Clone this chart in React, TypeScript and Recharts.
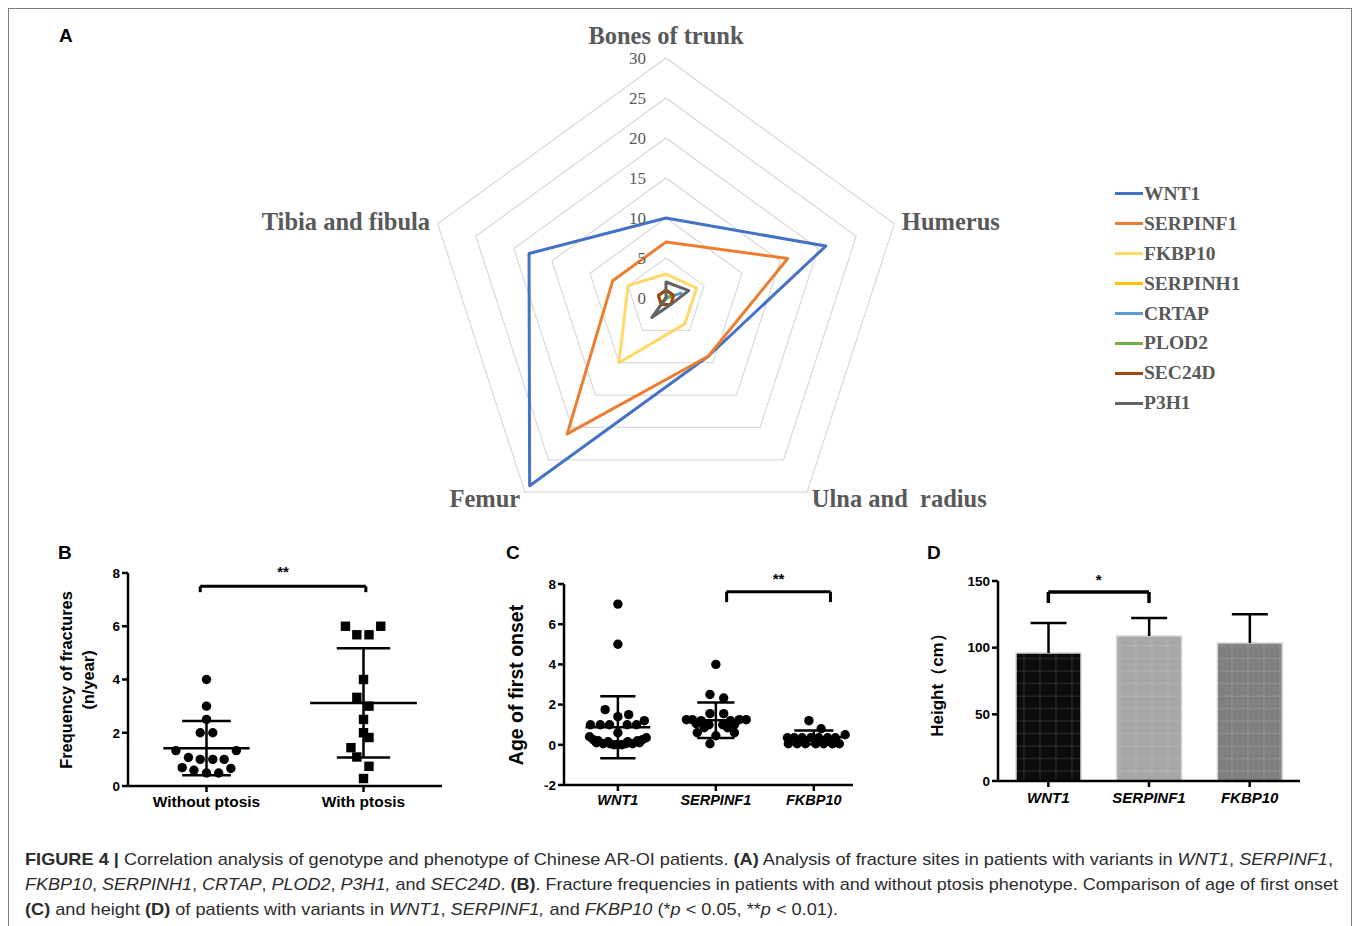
import React from "react";
import {
  RadarChart,
  Radar,
  PolarGrid,
  PolarAngleAxis,
  PolarRadiusAxis,
  Legend,
  ScatterChart,
  Scatter,
  XAxis,
  YAxis,
  ReferenceLine,
  BarChart,
  Bar,
} from "recharts";

// ---- A: fracture sites per gene ----
const sites = ["Bones of trunk", "Humerus", "Ulna and  radius", "Femur", "Tibia and fibula"];
const genes = ["WNT1", "SERPINF1", "FKBP10", "SERPINH1", "CRTAP", "PLOD2", "SEC24D", "P3H1"];
const wnt1Sites = [10, 21, 9, 29, 18];
const serpinf1Sites = [7, 16, 9, 21, 7];
const fkbp10Sites = [3, 4, 4, 10, 5];
const serpinh1Sites = [0, 1, 0, 1, 0];
const crtapSites = [0, 2, 0, 1, 0];
const plod2Sites = [1, 1, 0, 1, 1];
const sec24dSites = [1, 1, 1, 1, 1];
const p3h1Sites = [2, 3, 1, 3, 0];
const radarTicks = [0, 5, 10, 15, 20, 25, 30];

// ---- B: fracture frequency with / without ptosis ----
const ptosisGroups = ["Without ptosis", "With ptosis"];
const withoutPtosis = [4, 3, 2.5, 2, 2, 1.33, 1.33, 1.07, 1.0, 1.0, 1.0, 0.69, 0.59, 0.49, 0.49, 0.66];
const withoutJitter = [0, 0, 0, -0.08, 0.08, -0.39, 0.38, -0.23, -0.08, 0.08, 0.225, -0.31, -0.16, 0, 0.155, 0.31];
const withPtosis = [6, 6, 5.68, 5.68, 4, 3.33, 3, 2.5, 2, 1.82, 1.44, 1.09, 0.74, 0.28];
const withJitter = [-0.23, 0.22, -0.085, 0.07, 0, -0.085, 0.07, 0, 0, 0.07, -0.16, -0.085, 0.07, 0];
const ptosisMean = [1.42, 3.12];
const ptosisSd = [1.02, 2.05];

// ---- C: age of first onset ----
const onsetGenes = ["WNT1", "SERPINF1", "FKBP10"];
const wnt1Onset = [7, 5, 1.75, 1.4, 1.5, 1.2, 1.0, 1.0, 1.0, 1.0, 1.0, 0.6, 0.4, 0.35, 0.25, 0.25, 0.1, 0.05, 0.05, 0, 0.05, 0.05, 0.1, 0.2, 0.15, 0.15, 0.2, 0, 0];
const wnt1Jitter = [0, 0, -0.13, 0, 0.11, 0.27, -0.28, -0.18, -0.085, 0.095, 0.19, 0, -0.29, 0.29, -0.25, 0.25, -0.22, -0.15, -0.08, 0, 0.08, 0.15, 0.22, -0.2, -0.1, 0.1, 0.2, -0.04, 0.04];
const serpinf1Onset = [4.0, 2.5, 2.33, 1.55, 1.55, 1.25, 1.2, 1.2, 1.25, 1.25, 1.25, 1.05, 1.0, 1.0, 1.0, 0.85, 0.85, 0.6, 0.6, 0.45, 0.05];
const serpinf1Jitter = [0, -0.06, 0.08, -0.06, 0.08, -0.24, -0.15, 0.15, 0.24, 0.31, -0.3, -0.2, -0.07, 0.07, 0.19, -0.12, 0.12, -0.19, 0.19, 0, -0.06];
const fkbp10Onset = [1.2, 0.8, 0.5, 0.35, 0.35, 0.35, 0.35, 0.35, 0.35, 0.35, 0.05, 0.05, 0.05, 0.05, 0.05, 0.05, 0.05];
const fkbp10Jitter = [-0.05, 0.075, 0.32, -0.27, -0.2, -0.12, -0.03, 0.05, 0.14, 0.22, -0.26, -0.17, -0.085, 0.02, 0.1, 0.19, 0.26];
const onsetMean = [0.87, 1.22, 0.37];
const onsetSd = [1.54, 0.88, 0.34];

// ---- D: height ----
const heightMean = [96, 108.75, 103.5];
const heightSd = [22.5, 13.5, 21.5];

const geneColors = ["#4472C4", "#ED7D31", "#FFD966", "#FFC000", "#5B9BD5", "#70AD47", "#9E480E", "#636363"];
const barFills = ["#0b0b0b", "#a7a7a9", "#7f7f7f"];

const SANS = "'Liberation Sans', Arial, sans-serif";
const SERIF = "'Liberation Serif', 'Times New Roman', serif";

const siteSeries = [wnt1Sites, serpinf1Sites, fkbp10Sites, serpinh1Sites, crtapSites, plod2Sites, sec24dSites, p3h1Sites];
const radarData = sites.map((site, i) => {
  const row: Record<string, any> = { site };
  genes.forEach((g, k) => (row[g] = siteSeries[k][i]));
  return row;
});

const toPoints = (values: number[], jitter: number[], pos: number) =>
  values.map((v, i) => ({ x: pos + jitter[i], y: v }));

const heightData = onsetGenes.map((g, i) => ({ gene: g, mean: heightMean[i], sd: heightSd[i] }));

const axisLine = { stroke: "#000", strokeWidth: 2.5 };
const errStyle = { stroke: "#000", strokeWidth: 2.5, ifOverflow: "visible" as const };
const tickFont = { fill: "#000", fontSize: 13.5, fontWeight: "bold", fontFamily: SANS };

function AngleTick({ x, y, payload, textAnchor }: any) {
  const top = payload.value === sites[0];
  return (
    <text
      x={x}
      y={top ? y - 15 : y}
      textAnchor={textAnchor}
      dominantBaseline="central"
      fontFamily={SERIF}
      fontWeight="bold"
      fontSize={24.5}
      fill="#595959"
      style={{ whiteSpace: "pre" }}
    >
      {payload.value}
    </text>
  );
}

function RadiusTick({ x, y, payload }: any) {
  return (
    <text x={x - 20} y={y} textAnchor="end" dominantBaseline="central" fontFamily={SERIF} fontSize={17} fill="#595959">
      {payload.value}
    </text>
  );
}

function GeneLegend({ payload }: any) {
  const items = [...(payload || [])].sort((a: any, b: any) => genes.indexOf(a.value) - genes.indexOf(b.value));
  return (
    <div>
      {items.map((entry: any) => (
        <div key={entry.value} style={{ display: "flex", alignItems: "center", height: 29.9 }}>
          <span style={{ display: "inline-block", width: 28, height: 3, background: geneColors[genes.indexOf(entry.value)] }} />
          <span style={{ fontFamily: SERIF, fontWeight: "bold", fontSize: 19.5, color: "#595959", marginLeft: 1 }}>{entry.value}</span>
        </div>
      ))}
    </div>
  );
}

const Dot = (p: any) => <circle cx={p.cx} cy={p.cy} r={4.7} fill="#000" />;
const Square = (p: any) => <rect x={p.cx - 4.7} y={p.cy - 4.7} width={9.4} height={9.4} fill="#000" />;

function meanSd(pos: number, mean: number, sd: number, meanHalf: number, capHalf: number, k: string) {
  return [
    <ReferenceLine key={k + "m"} segment={[{ x: pos - meanHalf, y: mean }, { x: pos + meanHalf, y: mean }]} {...errStyle} />,
    <ReferenceLine key={k + "v"} segment={[{ x: pos, y: mean - sd }, { x: pos, y: mean + sd }]} {...errStyle} />,
    <ReferenceLine key={k + "h"} segment={[{ x: pos - capHalf, y: mean + sd }, { x: pos + capHalf, y: mean + sd }]} {...errStyle} />,
    <ReferenceLine key={k + "l"} segment={[{ x: pos - capHalf, y: mean - sd }, { x: pos + capHalf, y: mean - sd }]} {...errStyle} />,
  ];
}

function bracket(x1: any, x2: any, yLow: number, yTop: number, stars: string, k: string, width = 3, offset = 8) {
  const st = { stroke: "#000", strokeWidth: width, ifOverflow: "visible" as const };
  return [
    <ReferenceLine key={k + "a"} segment={[{ x: x1, y: yLow }, { x: x1, y: yTop }]} {...st} />,
    <ReferenceLine key={k + "b"} segment={[{ x: x2, y: yLow }, { x: x2, y: yTop }]} {...st} />,
    <ReferenceLine
      key={k + "c"}
      segment={[{ x: x1, y: yTop }, { x: x2, y: yTop }]}
      {...st}
      label={{ value: stars, position: "top", offset, fill: "#000", fontSize: 15, fontWeight: "bold", fontFamily: SANS }}
    />,
  ];
}

function HeightBar(props: any) {
  const { x, y, width, height, index, payload } = props;
  const perUnit = height / payload.mean;
  const topY = y - payload.sd * perUnit;
  const mid = x + width / 2;
  return (
    <g>
      <rect x={x} y={y} width={width} height={height} fill={barFills[index]} stroke="#d6d6d6" strokeWidth={1.5} />
      <rect x={x} y={y} width={width} height={height} fill="url(#barGrid)" />
      <line x1={mid} x2={mid} y1={y} y2={topY} stroke="#000" strokeWidth={2.5} />
      <line x1={mid - 18} x2={mid + 18} y1={topY} y2={topY} stroke="#000" strokeWidth={2.5} />
    </g>
  );
}

export default function App() {
  return (
    <div style={{ position: "absolute", left: 0, top: 0, width: 1358, height: 926, overflow: "hidden", background: "#fff" }}>
      <div style={{ position: "absolute", left: 8, top: 8, width: 1342, height: 960, border: "1px solid #7c7c7c" }} />

      {/* A: radar */}
      <div style={{ position: "absolute", left: 0, top: 0 }}>
        <RadarChart width={1358} height={530} data={radarData} cx={666} cy={298} outerRadius={240}>
          <PolarGrid gridType="polygon" radialLines={false} stroke="#d9d9d9" strokeWidth={1.2} />
          <PolarAngleAxis dataKey="site" tick={<AngleTick />} tickLine={false} axisLine={false} />
          <PolarRadiusAxis angle={90} domain={[0, 30]} ticks={radarTicks as any} tick={<RadiusTick />} axisLine={false} tickLine={false} />
          {genes.map((g, i) => (
            <Radar
              key={g}
              name={g}
              dataKey={g}
              stroke={geneColors[i]}
              strokeWidth={3}
              strokeLinejoin="round"
              fill="none"
              fillOpacity={0}
              dot={false}
              isAnimationActive={false}
            />
          ))}
          <Legend content={<GeneLegend />} wrapperStyle={{ position: "absolute", left: 1115, top: 179, width: 200 }} />
        </RadarChart>
      </div>

      {/* B */}
      <div style={{ position: "absolute", left: 20, top: 540 }}>
        <ScatterChart width={440} height={290} margin={{ top: 33, right: 18, bottom: 14, left: 0 }}>
          <XAxis
            type="number"
            dataKey="x"
            domain={[0, 4]}
            ticks={[1, 3]}
            tickFormatter={(v: number) => ptosisGroups[(v - 1) / 2]}
            axisLine={axisLine}
            tickLine={axisLine}
            tickSize={6}
            tickMargin={4}
            height={30}
            tick={{ ...tickFont, fontSize: 15.5 }}
          />
          <YAxis
            type="number"
            dataKey="y"
            domain={[0, 8]}
            ticks={[0, 2, 4, 6, 8]}
            width={108}
            axisLine={axisLine}
            tickLine={axisLine}
            tickSize={6}
            tickMargin={2}
            tick={tickFont}
          />
          <Scatter data={toPoints(withoutPtosis, withoutJitter, 1)} shape={Dot} isAnimationActive={false} />
          <Scatter data={toPoints(withPtosis, withJitter, 3)} shape={Square} isAnimationActive={false} />
          {meanSd(1, ptosisMean[0], ptosisSd[0], 0.55, 0.31, "b0")}
          {meanSd(3, ptosisMean[1], ptosisSd[1], 0.68, 0.34, "b1")}
          {bracket(0.92, 3.03, 7.28, 7.5, "**", "bb", 3, 9)}
        </ScatterChart>
      </div>

      {/* C */}
      <div style={{ position: "absolute", left: 460, top: 540 }}>
        <ScatterChart width={410} height={290} margin={{ top: 44, right: 17, bottom: 15, left: 0 }}>
          <XAxis
            type="number"
            dataKey="x"
            domain={[-0.05, 2.9]}
            ticks={[0.5, 1.5, 2.5]}
            tickFormatter={(v: number) => onsetGenes[v - 0.5]}
            axisLine={axisLine}
            tickLine={axisLine}
            tickSize={6}
            tickMargin={4}
            height={30}
            tick={{ ...tickFont, fontSize: 14.5, fontStyle: "italic" }}
          />
          <YAxis
            type="number"
            dataKey="y"
            domain={[-2, 8]}
            ticks={[-2, 0, 2, 4, 6, 8]}
            width={104}
            axisLine={axisLine}
            tickLine={axisLine}
            tickSize={6}
            tickMargin={2}
            tick={tickFont}
          />
          <Scatter data={toPoints(wnt1Onset, wnt1Jitter, 0.5)} shape={Dot} isAnimationActive={false} />
          <Scatter data={toPoints(serpinf1Onset, serpinf1Jitter, 1.5)} shape={Dot} isAnimationActive={false} />
          <Scatter data={toPoints(fkbp10Onset, fkbp10Jitter, 2.5)} shape={Dot} isAnimationActive={false} />
          {meanSd(0.5, onsetMean[0], onsetSd[0], 0.33, 0.18, "c0")}
          {meanSd(1.5, onsetMean[1], onsetSd[1], 0.31, 0.19, "c1")}
          {meanSd(2.5, onsetMean[2], onsetSd[2], 0.29, 0.2, "c2")}
          {bracket(1.61, 2.67, 7.1, 7.62, "**", "cb", 3, 8)}
        </ScatterChart>
      </div>

      {/* D */}
      <div style={{ position: "absolute", left: 920, top: 540 }}>
        <BarChart width={400} height={290} data={heightData} margin={{ top: 41, right: 20, bottom: 19, left: 0 }}>
          <defs>
            <pattern id="barGrid" patternUnits="userSpaceOnUse" width={16} height={12.5}>
              <path d="M 8 0 L 8 12.5 M 0 6 L 16 6" stroke="#ffffff" strokeOpacity={0.22} strokeWidth={1} strokeDasharray="2 1" fill="none" />
            </pattern>
          </defs>
          <XAxis
            dataKey="gene"
            axisLine={axisLine}
            tickLine={axisLine}
            tickSize={6}
            tickMargin={5}
            height={30}
            tick={{ ...tickFont, fontSize: 15, fontStyle: "italic" }}
          />
          <YAxis
            domain={[0, 150]}
            ticks={[0, 50, 100, 150]}
            width={78}
            axisLine={axisLine}
            tickLine={axisLine}
            tickSize={6}
            tickMargin={2}
            tick={tickFont}
          />
          <Bar dataKey="mean" barSize={65} shape={HeightBar} isAnimationActive={false} />
          {bracket("WNT1", "SERPINF1", 133.5, 141.75, "*", "db", 3.5, 7)}
        </BarChart>
      </div>

      {/* panel letters and axis titles */}
      <svg width={1358} height={926} style={{ position: "absolute", left: 0, top: 0, pointerEvents: "none" }}>
        <g fontFamily={SANS} fontWeight="bold" fontSize={19} fill="#000" dominantBaseline="central">
          <text x={59} y={35}>A</text>
          <text x={58} y={552}>B</text>
          <text x={506} y={552}>C</text>
          <text x={927} y={552}>D</text>
        </g>
        <g fontFamily={SANS} fontWeight="bold" fill="#000" textAnchor="middle" dominantBaseline="central">
          <text x={66} y={680} fontSize={16.4} transform="rotate(-90 66 680)">Frequency of fractures</text>
          <text x={88} y={680} fontSize={16.4} transform="rotate(-90 88 680)">(n/year)</text>
          <text x={516} y={685} fontSize={19.5} transform="rotate(-90 516 685)">Age of first onset</text>
          <text x={937} y={681} fontSize={17} transform="rotate(-90 937 681)">Height（cm）</text>
        </g>
        <g fontFamily={SANS} fontSize={17} fill="#2b2b2b">
          <text x={25} y={865} textLength={1308} lengthAdjust="spacingAndGlyphs">
            <tspan fontWeight="bold">FIGURE 4 |</tspan> Correlation analysis of genotype and phenotype of Chinese AR-OI patients.{" "}
            <tspan fontWeight="bold">(A)</tspan> Analysis of fracture sites in patients with variants in <tspan fontStyle="italic">WNT1</tspan>,{" "}
            <tspan fontStyle="italic">SERPINF1</tspan>,
          </text>
          <text x={25} y={890} textLength={1313} lengthAdjust="spacingAndGlyphs">
            <tspan fontStyle="italic">FKBP10</tspan>, <tspan fontStyle="italic">SERPINH1</tspan>, <tspan fontStyle="italic">CRTAP</tspan>,{" "}
            <tspan fontStyle="italic">PLOD2</tspan>, <tspan fontStyle="italic">P3H1,</tspan> and <tspan fontStyle="italic">SEC24D</tspan>.{" "}
            <tspan fontWeight="bold">(B)</tspan>. Fracture frequencies in patients with and without ptosis phenotype. Comparison of age of first onset
          </text>
          <text x={25} y={915} textLength={813} lengthAdjust="spacingAndGlyphs">
            <tspan fontWeight="bold">(C)</tspan> and height <tspan fontWeight="bold">(D)</tspan> of patients with variants in{" "}
            <tspan fontStyle="italic">WNT1</tspan>, <tspan fontStyle="italic">SERPINF1,</tspan> and <tspan fontStyle="italic">FKBP10</tspan> (*
            <tspan fontStyle="italic">p</tspan> &lt; 0.05, **<tspan fontStyle="italic">p</tspan> &lt; 0.01).
          </text>
        </g>
      </svg>
    </div>
  );
}
